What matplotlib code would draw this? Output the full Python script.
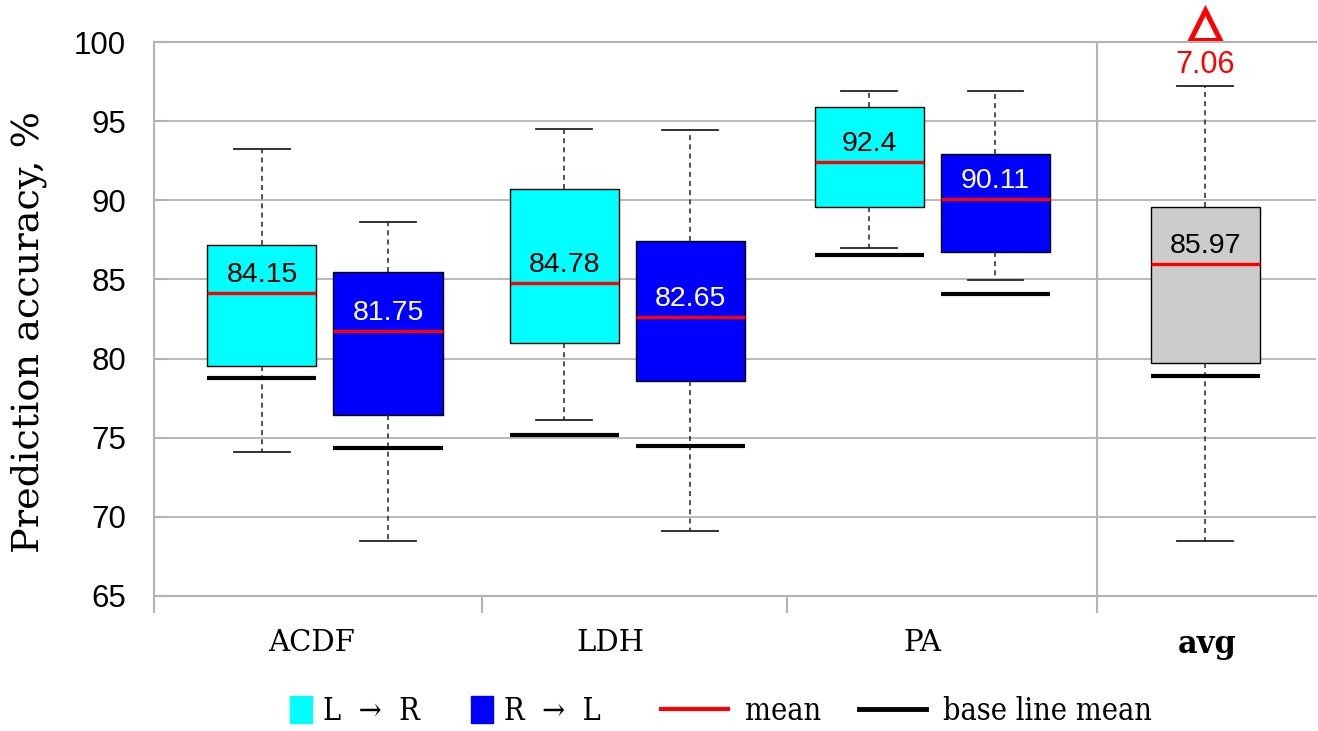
import matplotlib
matplotlib.use("Agg")
import matplotlib.pyplot as plt
import matplotlib.patches as mpatches
from matplotlib.lines import Line2D

# data
categories = ["ACDF", "LDH", "PA"]

lr_mean = [84.15, 84.78, 92.4]
lr_q1 = [79.55, 81.0, 89.6]
lr_q3 = [87.2, 90.7, 95.9]
lr_lo = [74.1, 76.15, 87.0]
lr_hi = [93.25, 94.5, 96.9]
lr_base = [78.75, 75.15, 86.55]

rl_mean = [81.75, 82.65, 90.11]
rl_q1 = [76.45, 78.6, 86.75]
rl_q3 = [85.5, 87.45, 92.95]
rl_lo = [68.5, 69.1, 84.95]
rl_hi = [88.6, 94.45, 96.9]
rl_base = [74.35, 74.45, 84.1]

avg_label = "avg"
avg_mean = 85.97
avg_q1 = 79.7
avg_q3 = 89.6
avg_lo = 68.5
avg_hi = 97.2
avg_base = 78.91

CYAN = "#00ffff"
BLUE = "#0000ff"
GREY = "#cccccc"
GRID = "#b3b3b3"
SANS = "Liberation Sans"
SERIF = "DejaVu Serif"
LEGEND_FONT = {"family": SERIF, "size": 22, "stretch": "condensed"}


def make_stats(lo, q1, med, q3, hi):
    return {"whislo": lo, "q1": q1, "med": med, "q3": q3, "whishi": hi, "fliers": []}


# layout: one unit = distance between the two boxes of a group
group_centers = [1.357, 3.754, 6.175]
avg_pos = 8.34
label_pos = [1.25, 3.62, 6.10, 8.36]
separators = [0, 2.6, 5.02, 7.48]
box_w = 0.865

positions, stats, colors, means, bases = [], [], [], [], []
for i in range(len(categories)):
    positions += [group_centers[i] - 0.5, group_centers[i] + 0.5]
    stats.append(make_stats(lr_lo[i], lr_q1[i], lr_mean[i], lr_q3[i], lr_hi[i]))
    stats.append(make_stats(rl_lo[i], rl_q1[i], rl_mean[i], rl_q3[i], rl_hi[i]))
    colors += [CYAN, BLUE]
    means += [lr_mean[i], rl_mean[i]]
    bases += [lr_base[i], rl_base[i]]
positions.append(avg_pos)
stats.append(make_stats(avg_lo, avg_q1, avg_mean, avg_q3, avg_hi))
colors.append(GREY)
means.append(avg_mean)
bases.append(avg_base)

fig = plt.figure(figsize=(13.18, 7.31), dpi=100)
ax = fig.add_axes([0.1168, 0.1847, 0.8817, 0.7578])

bp = ax.bxp(stats, positions=positions, widths=box_w, capwidths=0.44,
            patch_artist=True, showfliers=False,
            boxprops=dict(edgecolor="black", linewidth=1.0),
            whiskerprops=dict(color="#333333", linewidth=1.2, linestyle=(0, (3, 2.5))),
            capprops=dict(color="#222222", linewidth=1.3),
            medianprops=dict(color="red", linewidth=2.4, solid_capstyle="butt"))
for patch, c in zip(bp["boxes"], colors):
    patch.set_facecolor(c)

# baseline means
for x, b in zip(positions, bases):
    ax.hlines(b, x - box_w / 2, x + box_w / 2, color="black", linewidth=3, zorder=4)

# mean value labels
for x, m, c in zip(positions, means, colors):
    ax.annotate(f"{m:g}", (x, m), xytext=(0, 13), textcoords="offset points",
                ha="center", va="center", fontsize=20.5, family=SANS,
                color="white" if c == BLUE else "black", zorder=5)

# improvement of the average over the baseline
delta = avg_mean - avg_base
ax.text(avg_pos, 98.55, f"{delta:.2f}", ha="center", va="center", fontsize=22,
        family=SANS, color="red")
ax.plot([avg_pos], [101.1], marker="^", ms=22, mfc="none", mec="red", mew=3.6,
        clip_on=False, linestyle="none")

ax.set_ylim(65, 100)
ax.set_xlim(0, 9.22)
ax.set_yticks(range(65, 101, 5))
ax.yaxis.grid(True, color=GRID, linewidth=1.3)
ax.set_axisbelow(True)
ax.axvline(separators[-1], color=GRID, linewidth=1.5, zorder=0)

ax.set_xticks(label_pos)
ax.set_xticklabels(categories + [avg_label], family=SERIF, fontsize=21)
ax.get_xticklabels()[-1].set_fontweight("bold")
ax.get_xticklabels()[-1].set_fontsize(22)
ax.set_xticks(separators, minor=True)
ax.tick_params(axis="x", which="major", length=0, pad=24)
ax.tick_params(axis="x", which="minor", length=12, width=1.5, color=GRID, direction="out")
ax.tick_params(axis="y", length=10, width=1.5, color=GRID, direction="in", pad=20)
for lbl in ax.get_yticklabels():
    lbl.set_family(SANS)
    lbl.set_fontsize(22.5)

for side in ["left", "bottom", "top"]:
    ax.spines[side].set_color(GRID)
    ax.spines[side].set_linewidth(1.5)
ax.spines["right"].set_visible(False)

ax.set_ylabel("Prediction accuracy, %", family=SERIF, fontsize=27.5)
ax.yaxis.set_label_coords(-0.092, 0.477)

# legend in two parts: square patches and line samples
patch_handles = [mpatches.Patch(color=CYAN), mpatches.Patch(color=BLUE)]
patch_labels = ["L  \u2192  R", "R  \u2192  L"]
line_handles = [Line2D([], [], color="red", linewidth=3),
                Line2D([], [], color="black", linewidth=3.5)]
line_labels = ["mean", "base line mean"]

fig.legend(patch_handles, patch_labels, loc="center left", bbox_to_anchor=(290 / 1318, 0.027),
           ncol=2, frameon=False, handlelength=0.73, handleheight=1.0, handletextpad=0.36,
           columnspacing=1.67, borderpad=0, borderaxespad=0, prop=LEGEND_FONT)
fig.legend(line_handles, line_labels, loc="center left", bbox_to_anchor=(661 / 1318, 0.027),
           ncol=2, frameon=False, handlelength=2.19, handletextpad=0.56,
           columnspacing=1.24, borderpad=0, borderaxespad=0, prop=LEGEND_FONT)

fig.savefig("out.png", dpi=100)
